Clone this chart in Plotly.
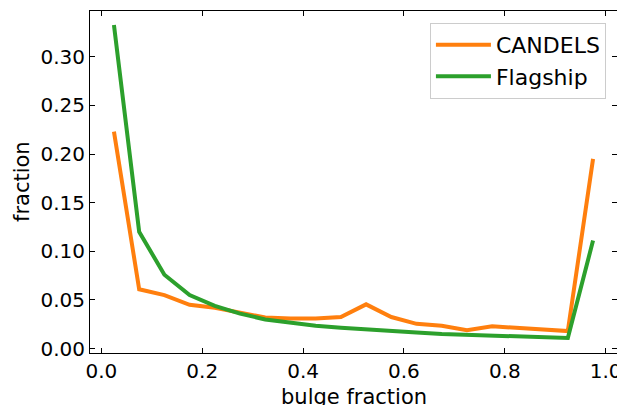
import plotly.graph_objects as go

bulge_fraction = [0.025, 0.075, 0.125, 0.175, 0.225, 0.275, 0.325, 0.375, 0.425, 0.475,
                  0.525, 0.575, 0.625, 0.675, 0.725, 0.775, 0.825, 0.875, 0.925, 0.975]
candels = [0.223, 0.061, 0.055, 0.045, 0.042, 0.037, 0.032, 0.031, 0.031, 0.0325,
           0.0455, 0.0325, 0.0255, 0.0235, 0.019, 0.023, 0.0215, 0.019, 0.018, 0.195]
flagship = [0.3325, 0.120, 0.076, 0.055, 0.044, 0.036, 0.030, 0.0265, 0.0235, 0.0215,
            0.0195, 0.018, 0.0165, 0.015, 0.014, 0.013, 0.0125, 0.012, 0.011, 0.111]

x_ticks = [0.0, 0.2, 0.4, 0.6, 0.8, 1.0]
y_ticks = [0.00, 0.05, 0.10, 0.15, 0.20, 0.25, 0.30]

FS_TICK = 20
FS_TEXT = 21
FS_LEGEND = 22

fig = go.Figure()
fig.add_trace(go.Scatter(x=bulge_fraction, y=candels, mode="lines", name="CANDELS",
                         line=dict(color="#ff7f0e", width=4)))
fig.add_trace(go.Scatter(x=bulge_fraction, y=flagship, mode="lines", name="Flagship",
                         line=dict(color="#2ca02c", width=4)))

axis_common = dict(showline=True, linecolor="black", linewidth=1, mirror="allticks",
                   ticks="inside", ticklen=5, tickwidth=1, tickcolor="black",
                   showgrid=False, zeroline=False, automargin=False,
                   tickfont=dict(size=FS_TICK, color="black"))

fig.update_xaxes(range=[-0.0225, 1.0225], tickvals=x_ticks,
                 ticktext=[f"{v:.1f}" for v in x_ticks], **axis_common)
fig.update_yaxes(range=[-0.0045, 0.347], tickvals=y_ticks,
                 ticktext=[f"{v:.2f}" for v in y_ticks], **axis_common)

fig.add_annotation(text="bulge fraction", xref="paper", yref="paper", x=0.5, y=0,
                   xanchor="center", yanchor="top", yshift=-30, showarrow=False,
                   font=dict(size=FS_TEXT, color="black"))
fig.add_annotation(text="fraction", xref="paper", yref="paper", x=0, y=0.5,
                   xanchor="center", yanchor="middle", xshift=-68, textangle=-90,
                   showarrow=False, font=dict(size=FS_TEXT, color="black"))

# The page body has an 8px margin, so the figure is shrunk by 8px and margins adjusted.
fig.update_layout(
    width=617, height=397,
    margin=dict(l=82, r=8, t=3, b=52),
    plot_bgcolor="white", paper_bgcolor="white",
    font=dict(family="DejaVu Sans", size=FS_TEXT, color="black"),
    legend=dict(x=0.979, y=0.965, xanchor="right", yanchor="top",
                bgcolor="rgba(255,255,255,0.8)", bordercolor="#cccccc", borderwidth=1,
                itemwidth=55, tracegroupgap=2,
                font=dict(size=FS_LEGEND)),
)

fig.write_html("out.html")
